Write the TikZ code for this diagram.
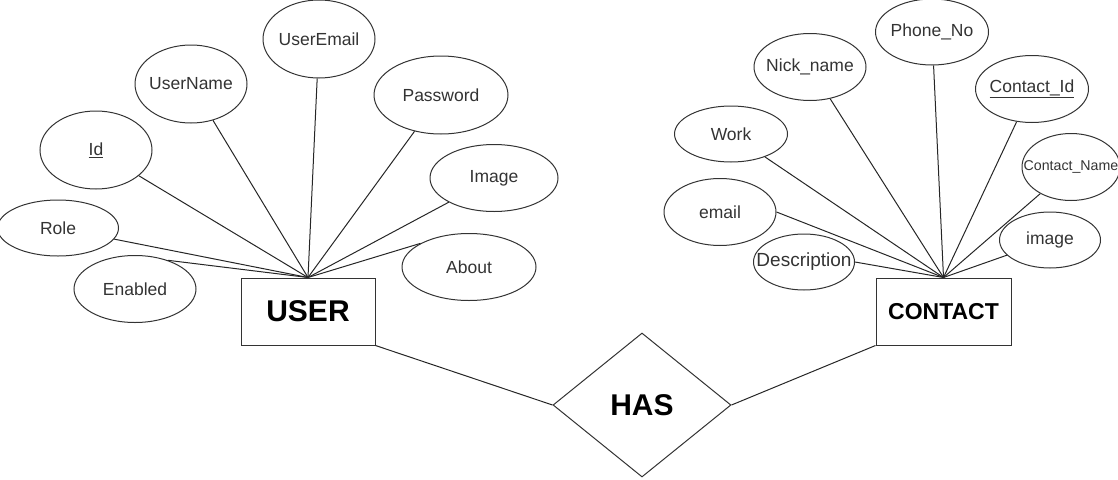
\documentclass[tikz,border=0pt]{standalone}
\usepackage{fontspec}
\setmainfont{Liberation Sans}
\usetikzlibrary{shapes.geometric}
\tikzset{
  attr/.style={ellipse, draw=black!80, line width=1pt, inner sep=0pt},
  txt/.style={inner sep=0pt, text=black!80, font=\fontsize{17.5}{20}\selectfont},
  ent/.style={rectangle, draw=black!80, line width=1pt, inner sep=0pt, font=\bfseries},
  rel/.style={diamond, draw=black!80, line width=1pt, inner sep=0pt, font=\bfseries\fontsize{30}{34}\selectfont},
  conn/.style={draw=black!85, line width=1pt}
}
\begin{document}
\begin{tikzpicture}[x=1pt,y=-1pt]
\useasboundingbox (0,0) rectangle (1118,479);
% USER side
\node[ent, minimum width=134pt, minimum height=67pt, font=\bfseries\fontsize{30}{34}\selectfont] (user) at (308,311.5) {USER};
\node[attr, minimum width=112pt, minimum height=78pt, label={[txt]center:UserEmail}] (uemail) at (319,39) {};
\node[attr, minimum width=112pt, minimum height=78pt, label={[txt]center:UserName}] (uname) at (191,84) {};
\node[attr, minimum width=112pt, minimum height=78pt, label={[txt]center:\underline{Id}}] (uid) at (96,150) {};
\node[attr, minimum width=134pt, minimum height=78pt, label={[txt]center:Password}] (upass) at (441,95) {};
\node[attr, minimum width=128pt, minimum height=67pt, label={[txt]center:Image}] (uimage) at (494,178) {};
\node[attr, minimum width=121pt, minimum height=56pt, label={[txt]center:Role}] (urole) at (58,228) {};
\node[attr, minimum width=122pt, minimum height=67pt, label={[txt]center:Enabled}] (uenabled) at (135,289) {};
\node[attr, minimum width=134pt, minimum height=67pt, label={[txt]center:About}] (uabout) at (469,267) {};
\draw[conn] (user.north) -- (uemail);
\draw[conn] (user.north) -- (uname);
\draw[conn] (user.north) -- (uid);
\draw[conn] (user.north) -- (upass);
\draw[conn] (user.north) -- (uimage);
\draw[conn] (user.north) -- (urole);
\draw[conn] (user.north) -- (uenabled.41);
\draw[conn] (user.north) -- (uabout.154);
% CONTACT side
\node[ent, minimum width=135pt, minimum height=67pt, font=\bfseries\fontsize{23}{27}\selectfont] (contact) at (943.5,311.5) {CONTACT};
\node[attr, minimum width=113pt, minimum height=66pt, label={[txt]center:Phone\_No}] (cphone) at (932,32) {};
\node[attr, minimum width=112pt, minimum height=67pt, label={[txt]center:Nick\_name}] (cnick) at (810,67) {};
\node[attr, minimum width=113pt, minimum height=67pt, label={[txt]center:\underline{Contact\_Id}}] (cid) at (1032,89) {};
\node[attr, minimum width=113pt, minimum height=56pt, label={[txt]center:Work}] (cwork) at (731,134) {};
\node[attr, minimum width=98pt, minimum height=67pt, label={[txt, font=\fontsize{14.2}{17}\selectfont]center:Contact\_Name}] (cname) at (1071,167) {};
\node[attr, minimum width=112pt, minimum height=67pt, label={[txt]center:email}] (cemail) at (720,212) {};
\node[attr, minimum width=101pt, minimum height=56pt, label={[txt]center:image}] (cimage) at (1050,240) {};
\node[attr, minimum width=101pt, minimum height=56pt, label={[txt, font=\fontsize{19}{22}\selectfont]center:Description}] (cdesc) at (804,262) {};
\draw[conn] (contact.north) -- (cphone);
\draw[conn] (contact.north) -- (cnick);
\draw[conn] (contact.north) -- (cid);
\draw[conn] (contact.north) -- (cwork);
\draw[conn] (contact.north) -- (cname);
\draw[conn] (contact.north) -- (cemail.east);
\draw[conn] (contact.north) -- (cimage);
\draw[conn] (contact.north) -- (cdesc.east);
% relationship
\node[rel, minimum width=178pt, minimum height=144pt] (has) at (642,405) {HAS};
\draw[conn] (user.south east) -- (has.west);
\draw[conn] (contact.south west) -- (has.east);
\end{tikzpicture}
\end{document}
